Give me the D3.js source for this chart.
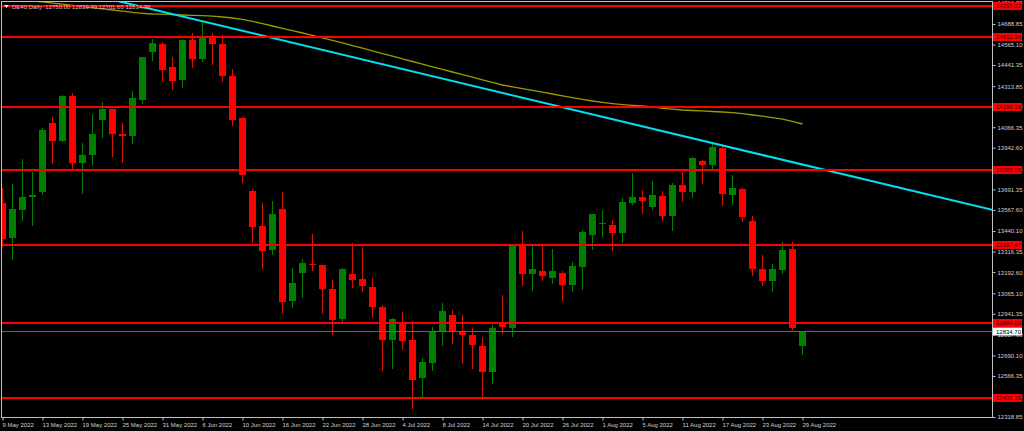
<!DOCTYPE html>
<html><head><meta charset="utf-8">
<script src="https://cdn.jsdelivr.net/npm/d3@7"></script>
<style>html,body{margin:0;padding:0;background:#000;overflow:hidden}svg{display:block}</style>
</head><body><svg id="c" width="1024" height="431"></svg>
<script>
const dates = ["2022-05-09","2022-05-10","2022-05-11","2022-05-12","2022-05-13","2022-05-16","2022-05-17","2022-05-18","2022-05-19","2022-05-20",
"2022-05-23","2022-05-24","2022-05-25","2022-05-26","2022-05-27","2022-05-30","2022-05-31","2022-06-01","2022-06-02","2022-06-03",
"2022-06-06","2022-06-07","2022-06-08","2022-06-09","2022-06-10","2022-06-13","2022-06-14","2022-06-15","2022-06-16","2022-06-17",
"2022-06-20","2022-06-21","2022-06-22","2022-06-23","2022-06-24","2022-06-27","2022-06-28","2022-06-29","2022-06-30","2022-07-01",
"2022-07-04","2022-07-05","2022-07-06","2022-07-07","2022-07-08","2022-07-11","2022-07-12","2022-07-13","2022-07-14","2022-07-15",
"2022-07-18","2022-07-19","2022-07-20","2022-07-21","2022-07-22","2022-07-25","2022-07-26","2022-07-27","2022-07-28","2022-07-29",
"2022-08-01","2022-08-02","2022-08-03","2022-08-04","2022-08-05","2022-08-08","2022-08-09","2022-08-10","2022-08-11","2022-08-12",
"2022-08-15","2022-08-16","2022-08-17","2022-08-18","2022-08-19","2022-08-22","2022-08-23","2022-08-24","2022-08-25","2022-08-26",
"2022-08-29"];

const open = [13609.4,13398.3,13567.2,13643.7,13673.9,14091.8,13985.1,14256.5,13848.8,13898.8,
14111.7,14176.2,14027.3,14015.2,14232.3,14521.8,14566.4,14427.7,14349.3,14592.4,
14479.6,14618.3,14570.1,14377.1,14122.0,13681.8,13470.7,13325.9,13571.4,13016.5,
13189.0,13241.5,13233.6,13092.5,12908.0,13181.2,13149.2,13102.8,12984.0,12785.0,
12889.9,12781.4,12552.2,12646.3,12835.6,12932.1,12831.4,12813.3,12747.0,12592.0,
12883.9,12857.4,13360.3,13181.2,13197.3,13158.9,13187.2,13114.9,13225.2,13418.2,
13480.9,13474.9,13430.2,13611.2,13645.6,13583.4,13653.4,13532.8,13718.0,13675.7,
13862.6,13840.3,13941.1,13659.4,13692.0,13500.8,13213.2,13139.0,13203.5,13331.9,
12750.0];
const high = [13699.8,13723.9,13876.5,13798.1,14063.5,14128.0,14260.7,14272.7,13969.4,14146.1,
14216.6,14179.2,14091.8,14284.8,14489.8,14596.6,14582.1,14491.7,14595.4,14636.4,
14700.9,14632.8,14622.5,14417.5,14129.8,13693.8,13607.5,13621.4,13677.5,13217.4,
13269.8,13422.4,13235.5,13145.0,13215.6,13366.3,13345.8,13157.1,12992.4,12914.0,
12952.0,12897.7,12676.4,12863.4,13008.1,12964.1,12934.0,12857.4,12803.1,12873.6,
13054.6,13354.3,13440.5,13356.1,13360.3,13331.9,13199.1,13255.4,13446.5,13546.0,
13567.2,13506.9,13637.7,13790.3,13687.8,13742.0,13683.6,13728.2,13794.5,13883.8,
13868.6,13969.4,13953.1,13778.2,13698.0,13531.0,13295.8,13241.5,13372.4,13376.0,
12839.7];
const low = [13350.1,13271.7,13506.9,13476.7,13666.6,13852.4,13983.3,13818.6,13671.5,13838.5,
14009.2,13894.6,13854.8,13969.4,14210.6,14471.7,14346.9,14298.7,14310.7,14427.7,
14467.5,14447.6,14346.9,14081.6,13736.0,13376.0,13219.2,13301.8,12947.8,12980.4,
13040.7,13205.3,12947.8,12817.6,12891.7,13101.0,13080.5,12923.7,12602.3,12612.5,
12727.1,12371.3,12441.3,12602.3,12753.1,12763.3,12642.6,12612.5,12425.6,12522.1,
12823.6,12809.1,13114.9,13084.7,13145.0,13125.1,13024.4,13078.7,13089.0,13332.0,
13412.2,13325.9,13376.0,13601.5,13550.9,13575.0,13506.9,13446.5,13623.3,13647.4,
13728.2,13808.4,13597.3,13603.4,13502.6,13177.0,13114.9,13080.5,13185.4,12849.5,
12701.6];
const close = [13392.3,13573.2,13647.4,13657.6,14047.8,13981.5,14254.7,13848.8,13898.8,14023.7,
14178.1,14025.5,14015.2,14240.6,14488.0,14574.3,14413.3,14346.9,14592.4,14477.8,
14618.3,14570.1,14377.1,14111.7,13780.0,13462.9,13321.7,13543.0,13014.1,13126.9,
13247.5,13233.6,13088.9,12905.5,13213.2,13145.0,13107.0,12982.2,12785.0,12909.8,
12775.3,12542.0,12652.3,12839.3,12958.0,12831.4,12811.5,12753.1,12592.0,12853.7,
12863.4,13351.9,13179.4,13211.4,13170.7,13199.1,13114.9,13229.4,13432.7,13543.0,
13486.9,13430.2,13613.6,13643.7,13623.3,13657.6,13532.8,13718.0,13675.7,13880.7,
13840.3,13945.3,13665.4,13699.8,13526.7,13211.4,13140.9,13211.4,13324.1,12857.4,
12834.7];

// moving average (olive line), one value per candle
const movingAvg = [14848.7,14842.0,14834.8,14827.5,14822.1,14814.9,14808.2,14801.0,14794.4,14787.2,
14780.5,14773.3,14766.0,14758.8,14753.4,14749.2,14747.9,14745.5,14743.1,14741.3,
14739.5,14735.9,14731.1,14725.0,14717.2,14704.5,14690.7,14676.8,14662.3,14648.4,
14634.6,14620.1,14605.6,14589.9,14574.3,14558.6,14542.9,14526.6,14510.9,14494.7,
14479.0,14462.7,14447.0,14430.7,14415.0,14399.4,14383.7,14368.0,14352.3,14337.3,
14321.0,14310.1,14299.3,14288.4,14277.6,14266.7,14255.9,14245.0,14234.1,14224.5,
14216.0,14208.8,14202.8,14198.0,14194.3,14189.5,14179.8,14175.0,14170.2,14167.2,
14164.8,14161.2,14158.1,14153.9,14147.9,14140.1,14132.8,14123.8,14114.7,14102.1,
14085.8];

// trend line anchors (bar index, price)
const trendIdx = [10, 99];
const trendPrice = [14849.3, 13567.6];

// horizontal levels
const levels = [14797.22, 14612.36, 14186.39, 13805.65, 13357.47, 12884.00, 12431.15];
const lastPrice = 12834.70;

const priceTicks = [14816.35,14688.85,14565.10,14441.35,14313.85,14190.10,14066.35,13942.60,13816.85,13691.35,
13567.60,13440.10,13316.35,13192.60,13065.10,12941.35,12817.60,12690.10,12566.35,12442.60,12318.85];
const dateTicks = ["2022-05-09","2022-05-13","2022-05-19","2022-05-25","2022-05-31","2022-06-06","2022-06-10",
"2022-06-16","2022-06-22","2022-06-28","2022-07-04","2022-07-08","2022-07-14","2022-07-20","2022-07-26",
"2022-08-01","2022-08-05","2022-08-11","2022-08-17","2022-08-23","2022-08-29"];

const titleText = "DE40,Daily  12750.00 12839.70 12701.60 12834.70";

const FONT = "Liberation Sans, Arial, sans-serif";
const svg = d3.select("#c");
svg.append("rect").attr("width",1024).attr("height",431).attr("fill","#000");

const L = 2, R = 992, T = 2, B = 417;
const x = d3.scaleLinear().domain([0, 99]).range([2.5, 992.5]);
const y = d3.scaleLinear().domain([12318.85, 14688.85]).range([417, 24]);

const defs = svg.append("defs");
defs.append("clipPath").attr("id","plot").append("rect")
  .attr("x", L).attr("y", T).attr("width", R - L).attr("height", B - T);

// price axis
const yAxis = d3.axisRight(y).tickValues(priceTicks).tickSize(3).tickPadding(2)
  .tickFormat(d3.format(".2f"));
const gy = svg.append("g").attr("transform", `translate(${R + 0.5},0)`).call(yAxis);
gy.select(".domain").remove();
gy.selectAll(".tick line").attr("stroke","#c0c0c0");
gy.selectAll(".tick text").attr("fill","#d0d0d0").attr("font-family",FONT).attr("font-size",6);

// date axis
const parse = d3.timeParse("%Y-%m-%d");
const fmt = d3.timeFormat("%-d %b %Y");
const xAxis = d3.axisBottom(x).tickValues(dateTicks.map(d => dates.indexOf(d)))
  .tickSize(3).tickPadding(2).tickFormat(i => fmt(parse(dates[i])));
const gx = svg.append("g").attr("transform", `translate(0,${B + 0.5})`).call(xAxis);
gx.select(".domain").remove();
gx.selectAll(".tick line").attr("stroke","#c0c0c0");
gx.selectAll(".tick text").attr("fill","#d0d0d0").attr("font-family",FONT).attr("font-size",6)
  .attr("text-anchor","start").attr("dx", -0.5);

// plot layer
const plot = svg.append("g").attr("clip-path","url(#plot)");

// candles
const n = dates.length;
const idx = d3.range(n);
const bullCol = "#008000", bearCol = "#ff0000", bearWick = "#d01800";
plot.append("g").selectAll("line").data(idx).join("line")
  .attr("x1", i => x(i)).attr("x2", i => x(i))
  .attr("y1", i => Math.round(y(high[i]))).attr("y2", i => Math.round(y(low[i])) + 1)
  .attr("stroke", i => close[i] >= open[i] ? bullCol : bearWick).attr("stroke-width", 1);
plot.append("g").selectAll("rect").data(idx).join("rect")
  .attr("x", i => x(i) - 3.5).attr("width", 7)
  .attr("y", i => Math.round(y(Math.max(open[i], close[i]))))
  .attr("height", i => Math.max(1, Math.round(y(Math.min(open[i], close[i]))) - Math.round(y(Math.max(open[i], close[i])))))
  .attr("fill", i => close[i] >= open[i] ? bullCol : bearCol);

// moving average
plot.append("path").datum(idx)
  .attr("d", d3.line().x(i => x(i)).y(i => y(movingAvg[i])))
  .attr("fill","none").attr("stroke","#9a9a00").attr("stroke-width",1.3);

// trend line
plot.append("line")
  .attr("x1", x(trendIdx[0])).attr("y1", y(trendPrice[0]))
  .attr("x2", x(trendIdx[1])).attr("y2", y(trendPrice[1]))
  .attr("stroke","#00e0f0").attr("stroke-width",2);

// horizontal levels
plot.append("g").selectAll("line").data(levels).join("line")
  .attr("x1", L).attr("x2", R)
  .attr("y1", d => Math.round(y(d))).attr("y2", d => Math.round(y(d)))
  .attr("stroke","#ff0000").attr("stroke-width",2);
plot.append("line").attr("x1", L).attr("x2", R)
  .attr("y1", Math.round(y(lastPrice)) + 0.5).attr("y2", Math.round(y(lastPrice)) + 0.5)
  .attr("stroke","#5c6670").attr("stroke-width",1);

// title
const tg = svg.append("g");
tg.append("path").attr("d","M4,5 L9,5 L6.5,8 Z").attr("fill","#e8e8e8");
tg.append("text").attr("x", 12).attr("y", 8.5).text(titleText)
  .attr("fill","#c8c8c8").attr("font-family",FONT).attr("font-size",6).attr("xml:space","preserve");

// level labels
const lab = svg.append("g");
levels.forEach(v => {
  const yy = Math.round(y(v));
  lab.append("rect").attr("x", R + 1).attr("y", yy - 4).attr("width", 29).attr("height", 8).attr("fill","#ff0000");
  lab.append("text").attr("x", R + 4).attr("y", yy + 2).text(d3.format(".2f")(v))
    .attr("fill","#3a0000").attr("font-family",FONT).attr("font-size",6);
});
{
  const yy = Math.round(y(lastPrice));
  lab.append("rect").attr("x", R + 1).attr("y", yy - 3.5).attr("width", 29).attr("height", 8).attr("fill","#ffffff");
  lab.append("text").attr("x", R + 4).attr("y", yy + 2.5).text(d3.format(".2f")(lastPrice))
    .attr("fill","#000").attr("font-family",FONT).attr("font-size",6);
}

// frame
svg.append("rect").attr("x", L - 0.5).attr("y", T - 0.5).attr("width", R - L + 1).attr("height", B - T + 1)
  .attr("fill","none").attr("stroke","#c0c0c0").attr("stroke-width",1);
</script>
</body></html>
